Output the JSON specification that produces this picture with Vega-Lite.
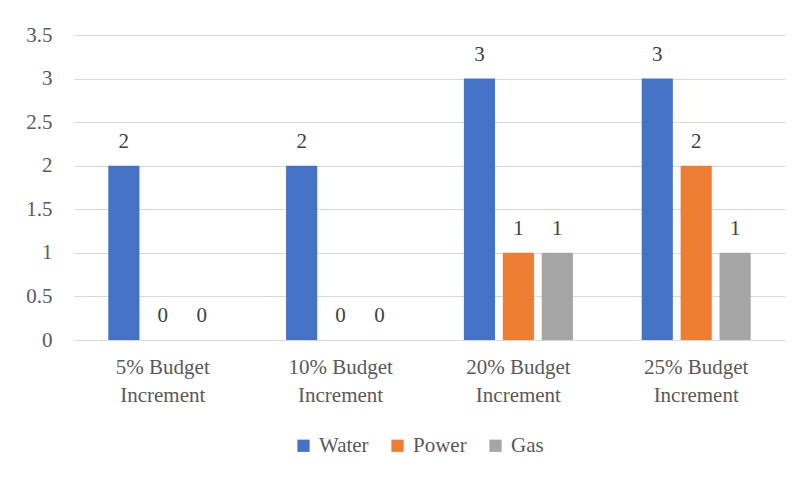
{
  "$schema": "https://vega.github.io/schema/vega-lite/v6.json",
  "width": 711,
  "height": 305,
  "autosize": {"type": "none"},
  "padding": {"left": 74, "top": 35, "right": 19, "bottom": 141},
  "background": "white",
  "config": {
    "view": {"stroke": null}
  },
  "data": {
    "values": [
      {"category": "5% Budget Increment", "series": "Water", "value": 2},
      {"category": "5% Budget Increment", "series": "Power", "value": 0},
      {"category": "5% Budget Increment", "series": "Gas", "value": 0},
      {"category": "10% Budget Increment", "series": "Water", "value": 2},
      {"category": "10% Budget Increment", "series": "Power", "value": 0},
      {"category": "10% Budget Increment", "series": "Gas", "value": 0},
      {"category": "20% Budget Increment", "series": "Water", "value": 3},
      {"category": "20% Budget Increment", "series": "Power", "value": 1},
      {"category": "20% Budget Increment", "series": "Gas", "value": 1},
      {"category": "25% Budget Increment", "series": "Water", "value": 3},
      {"category": "25% Budget Increment", "series": "Power", "value": 2},
      {"category": "25% Budget Increment", "series": "Gas", "value": 1}
    ]
  },
  "encoding": {
    "x": {
      "field": "category", "type": "nominal", "sort": null, "title": null,
      "scale": {"paddingInner": 0.343, "paddingOuter": 0.171},
      "axis": {
        "labelAngle": 0, "ticks": false, "domain": true, "domainColor": "#D9D9D9", "domainWidth": 1,
        "labelPadding": 16, "labelLineHeight": 28, "labelBaseline": "top",
        "labelFont": "Liberation Serif", "labelFontSize": 21, "labelColor": "#595959",
        "labelExpr": "[replace(datum.label, ' Increment', ''), 'Increment']"
      }
    },
    "xOffset": {
      "field": "series", "type": "nominal", "sort": ["Water", "Power", "Gas"],
      "scale": {"paddingInner": 0.2, "paddingOuter": 0.1}
    },
    "y": {
      "field": "value", "type": "quantitative", "title": null,
      "scale": {"domain": [0, 3.5], "nice": false},
      "axis": {
        "values": [0, 0.5, 1, 1.5, 2, 2.5, 3, 3.5], "ticks": false, "domain": false,
        "grid": true, "gridColor": "#D9D9D9", "gridWidth": 1, "labelPadding": 22,
        "labelFont": "Liberation Serif", "labelFontSize": 21, "labelColor": "#595959",
        "labelExpr": "datum.value"
      }
    }
  },
  "layer": [
    {
      "mark": {"type": "bar"},
      "encoding": {
        "color": {
          "field": "series", "type": "nominal", "sort": ["Water", "Power", "Gas"],
          "scale": {"domain": ["Water", "Power", "Gas"], "range": ["#4472C4", "#ED7D31", "#A5A5A5"]},
          "legend": {
            "title": null, "orient": "none", "legendX": 219, "legendY": 400, "direction": "horizontal",
            "symbolType": "square", "symbolSize": 150, "symbolStrokeWidth": 0,
            "labelFont": "Liberation Serif", "labelFontSize": 21, "labelColor": "#595959",
            "columnPadding": 18, "labelOffset": 5
          }
        }
      }
    },
    {
      "mark": {"type": "text", "baseline": "alphabetic", "dy": -18, "fontSize": 21, "color": "#404040", "font": "Liberation Serif"},
      "encoding": {"text": {"field": "value", "type": "quantitative"}}
    }
  ]
}
